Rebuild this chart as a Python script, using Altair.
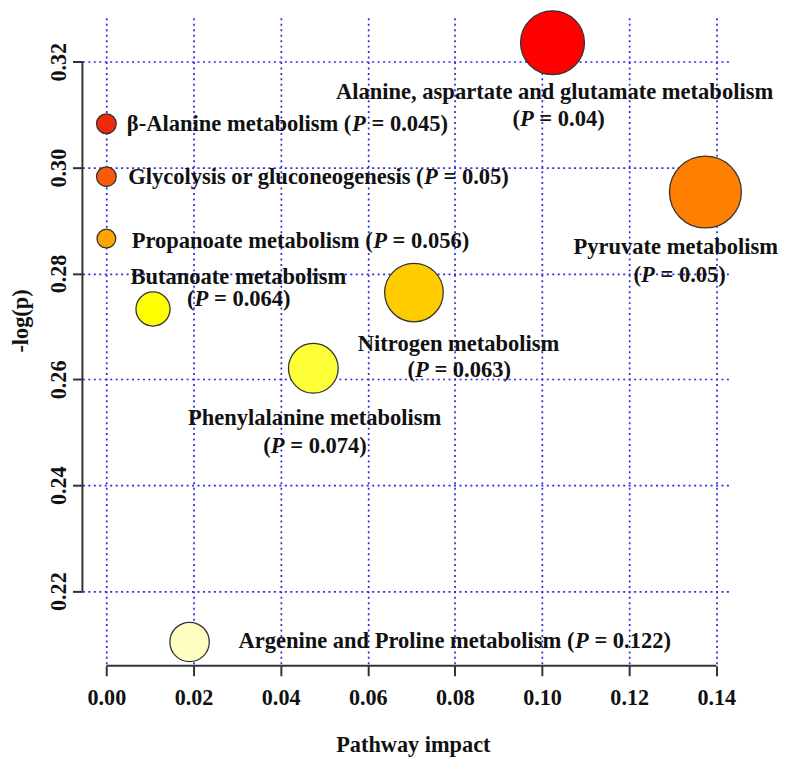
import altair as alt
import pandas as pd

# ---------------- data ----------------
pathways = [
    "Alanine, aspartate and glutamate metabolism",
    "β-Alanine metabolism",
    "Glycolysis or gluconeogenesis",
    "Propanoate metabolism",
    "Butanoate metabolism",
    "Pyruvate metabolism",
    "Nitrogen metabolism",
    "Phenylalanine metabolism",
    "Argenine and Proline metabolism",
]
impact = [0.1024, 0.0, 0.0, 0.0, 0.0107, 0.1375, 0.0706, 0.0475, 0.0191]
neglogp = [0.3236, 0.3083, 0.2983, 0.2866, 0.2733, 0.2954, 0.2764, 0.2621, 0.2104]
p_values = ["0.04", "0.045", "0.05", "0.056", "0.064", "0.05", "0.063", "0.074", "0.122"]
bubble = [0.79, 0.075, 0.075, 0.068, 0.225, 1.0, 0.665, 0.478, 0.300]
colors = ["#FF0000", "#F2280C", "#FA5A0A", "#FFA500", "#FFFF00",
          "#FF8000", "#FFCC00", "#FFFF38", "#FFFFC2"]

x_ticks = [0.00, 0.02, 0.04, 0.06, 0.08, 0.10, 0.12, 0.14]
y_ticks = [0.22, 0.24, 0.26, 0.28, 0.30, 0.32]

# label layout (two-line labels are centred, one-line labels left-aligned)
two_line = [True, False, False, False, True, True, True, True, False]
label_x = [[0.1029, 0.1038], [0.0047], [0.0050], [0.0058], [0.0303, 0.0304],
           [0.1307, 0.1316], [0.0809, 0.0810], [0.0478, 0.0479], [0.0303]]
label_y = [[0.3130, 0.3078], [0.3069], [0.2969], [0.2849], [0.2781, 0.2738],
           [0.2837, 0.2784], [0.2654, 0.2605], [0.2513, 0.2461], [0.2093]]

# ---------------- layout ----------------
W, H = 652, 653
XMIN, XMAX = -0.0055, 0.1430
YMIN, YMAX = 0.2059, 0.3283
PX_PER_X = W / (XMAX - XMIN)
FONT = "Liberation Serif"
FS = 22.7

BOLD = {" ": 250, ",": 250, "-": 333, "(": 333, ")": 333, "=": 570, ".": 250,
        "A": 722, "B": 667, "G": 778, "N": 722, "P": 611, "β": 556,
        "a": 500, "b": 556, "c": 444, "d": 556, "e": 444, "g": 500, "h": 556,
        "i": 278, "l": 278, "m": 833, "n": 556, "o": 500, "p": 556, "r": 444,
        "s": 389, "t": 333, "u": 556, "v": 500, "y": 500}
BOLD_ITALIC = {"P": 611}


def tw(s, italic=False):
    tbl = BOLD_ITALIC if italic else BOLD
    return sum(tbl.get(c, BOLD.get(c, 500)) for c in s) * FS / 1000.0


seg_rows = []
for i, name in enumerate(pathways):
    ptxt = f"(P = {p_values[i]})"
    lines = [name, ptxt] if two_line[i] else [f"{name} {ptxt}"]
    for j, line in enumerate(lines):
        k = line.find("(P =")
        if k >= 0:
            pre, post = line[:k + 1], line[k + 2:]
            segs = [(pre, False, 0.0), ("P", True, 0.0), (post.lstrip(), False, tw(" "))]
        else:
            segs = [(line, False, 0.0)]
        total = sum(tw(t, it) + ld for t, it, ld in segs)
        off = 0.0 if not two_line[i] else -total / 2.0
        for txt, ital, lead in segs:
            off += lead
            if txt:
                seg_rows.append({"sx": label_x[i][j] + off / PX_PER_X,
                                 "sy": label_y[i][j], "txt": txt, "ital": ital})
            off += tw(txt, ital)

seg = pd.DataFrame(seg_rows)
pts = pd.DataFrame({"pathway": pathways, "impact": impact, "nlp": neglogp, "bubble": bubble})

xs = alt.Scale(domain=[XMIN, XMAX], nice=False, zero=False)
ys = alt.Scale(domain=[YMIN, YMAX], nice=False, zero=False)

x_axis = alt.Axis(values=x_ticks, format=".2f", labelPadding=11, labelAngle=0,
                  title="Pathway impact", titleX=333, titleY=86, titleAlign="center",
                  titleBaseline="alphabetic", titleAngle=0)
y_axis = alt.Axis(values=y_ticks, format=".2f", labelPadding=7, labelAngle=270,
                  labelAlign="center", labelBaseline="alphabetic",
                  title="-log(p)", titleX=-55, titleY=305, titleAlign="center",
                  titleBaseline="alphabetic", titleAngle=270)

points = alt.Chart(pts).mark_circle(stroke="#333333", strokeWidth=1.3, opacity=1).encode(
    x=alt.X("impact:Q", scale=xs, axis=x_axis),
    y=alt.Y("nlp:Q", scale=ys, axis=y_axis),
    size=alt.Size("bubble:Q", scale=alt.Scale(domain=[0, 1], range=[0, 5250]), legend=None),
    color=alt.Color("pathway:N", scale=alt.Scale(domain=pathways, range=colors), legend=None),
)

xline = alt.Chart(pd.DataFrame({"a": [min(x_ticks)], "b": [max(x_ticks)]})).mark_rule(
    color="#333333", strokeWidth=2).encode(
    x=alt.X("a:Q", scale=xs, axis=x_axis), x2="b:Q", y=alt.value(H))
yline = alt.Chart(pd.DataFrame({"a": [min(y_ticks)], "b": [max(y_ticks)]})).mark_rule(
    color="#333333", strokeWidth=2).encode(
    y=alt.Y("a:Q", scale=ys, axis=y_axis), y2="b:Q", x=alt.value(0))

text_common = dict(font=FONT, fontSize=FS, fontWeight="bold", color="#111111",
                   align="left", baseline="alphabetic")
txt_n = alt.Chart(seg[~seg["ital"]]).mark_text(**text_common).encode(
    x=alt.X("sx:Q", scale=xs, axis=x_axis), y=alt.Y("sy:Q", scale=ys, axis=y_axis), text="txt:N")
txt_i = alt.Chart(seg[seg["ital"]]).mark_text(fontStyle="italic", **text_common).encode(
    x=alt.X("sx:Q", scale=xs, axis=x_axis), y=alt.Y("sy:Q", scale=ys, axis=y_axis), text="txt:N")

chart = alt.layer(points, xline, yline, txt_n, txt_i).properties(
    width=W, height=H,
    autosize=alt.AutoSizeParams(type="none"),
    padding={"left": 75, "top": 7, "right": 50, "bottom": 90},
).configure_view(strokeWidth=0).configure_axis(
    domain=False, grid=True, gridColor="#2B2BE0", gridDash=[2, 3.5], gridWidth=1.7,
    ticks=True, tickSize=10, tickWidth=2, tickColor="#333333",
    labelFont=FONT, labelFontWeight="bold", labelFontSize=22.3, labelColor="#111111",
    titleFont=FONT, titleFontWeight="bold", titleFontSize=22.5, titleColor="#111111",
)

chart.save("out.html", embed_options={"renderer": "svg", "actions": False})
